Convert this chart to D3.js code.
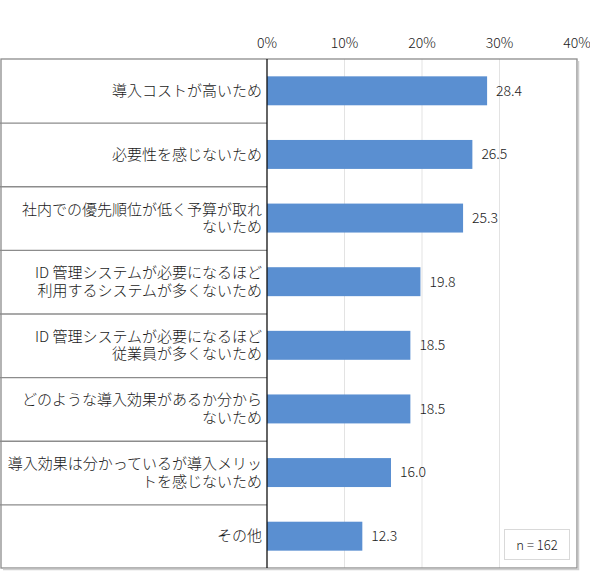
<!DOCTYPE html>
<html>
<head>
<meta charset="utf-8">
<script src="https://cdn.jsdelivr.net/npm/d3@7"></script>
<style>
  body { margin: 0; background: #fff; }
  text { font-family: "Noto Sans CJK JP", "Noto Sans", sans-serif; font-weight: 300; fill: #1a1a1a; }
</style>
</head>
<body>
<div id="chart"></div>
<script>
// categories, one entry per line of the label
var categories = [
  ["導入コストが高いため"],
  ["必要性を感じないため"],
  ["社内での優先順位が低く予算が取れ", "ないため"],
  ["ID 管理システムが必要になるほど", "利用するシステムが多くないため"],
  ["ID 管理システムが必要になるほど", "従業員が多くないため"],
  ["どのような導入効果があるか分から", "ないため"],
  ["導入効果は分かっているが導入メリッ", "トを感じないため"],
  ["その他"]
];
var values = [28.4, 26.5, 25.3, 19.8, 18.5, 18.5, 16.0, 12.3];
var ticks = [0, 10, 20, 30, 40];
var sampleNote = "n = 162";

var width = 590, height = 586;
// plot frame edges ("top" is reserved on window, so prefix them)
var pLeft = 267, pRight = 577, pTop = 59, pBottom = 568;

var svg = d3.select("#chart").append("svg")
  .attr("width", width)
  .attr("height", height);

var x = d3.scaleLinear().domain([0, 40]).range([pLeft, pRight]);
var y = d3.scaleBand()
  .domain(d3.range(categories.length))
  .range([pTop, pBottom])
  .paddingInner(0.545)
  .paddingOuter(0.2725);
var row = d3.scaleBand().domain(d3.range(categories.length)).range([pTop, pBottom]);

// gridlines
svg.append("g")
  .selectAll("line")
  .data(ticks.slice(1, -1))
  .join("line")
  .attr("x1", d => x(d)).attr("x2", d => x(d))
  .attr("y1", pTop).attr("y2", pBottom)
  .attr("stroke", "#e3e3e3")
  .attr("stroke-width", 1);

// row separators in the label area
svg.append("g")
  .selectAll("line")
  .data(d3.range(1, categories.length))
  .join("line")
  .attr("x1", 0).attr("x2", pLeft)
  .attr("y1", d => row(d) + 0.5).attr("y2", d => row(d) + 0.5)
  .attr("stroke", "#8c8c8c")
  .attr("stroke-width", 1.3);

// outer frame
svg.append("rect")
  .attr("x", 1).attr("y", pTop)
  .attr("width", pRight - 1).attr("height", pBottom - pTop)
  .attr("fill", "none")
  .attr("stroke", "#8c8c8c")
  .attr("stroke-width", 1.3);
// soft shadow on right and bottom
svg.append("path")
  .attr("d", `M${pRight + 1.5},${pTop + 2}V${pBottom + 1.5}H3`)
  .attr("fill", "none")
  .attr("stroke", "#cfcfcf")
  .attr("stroke-width", 1.5);

// bars
svg.append("g")
  .selectAll("rect")
  .data(values)
  .join("rect")
  .attr("x", x(0))
  .attr("y", (d, i) => y(i))
  .attr("width", d => x(d) - x(0))
  .attr("height", y.bandwidth())
  .attr("fill", "#5a8fd1");

// value labels
svg.append("g")
  .selectAll("text")
  .data(values)
  .join("text")
  .attr("x", d => x(d) + 9)
  .attr("y", (d, i) => y(i) + y.bandwidth() / 2)
  .attr("dy", "0.35em")
  .attr("font-size", 14)
  .text(d => d.toFixed(1));

// y axis line
svg.append("line")
  .attr("x1", pLeft).attr("x2", pLeft)
  .attr("y1", pTop).attr("y2", pBottom)
  .attr("stroke", "#111")
  .attr("stroke-width", 1.3);

// top tick labels
svg.append("g")
  .selectAll("text")
  .data(ticks)
  .join("text")
  .attr("x", d => x(d))
  .attr("y", 43)
  .attr("dy", "0.35em")
  .attr("text-anchor", "middle")
  .attr("font-size", 14)
  .text(d => d + "%");

// category labels
var lineH = 17.5;
svg.append("g")
  .selectAll("text")
  .data(categories)
  .join("text")
  .attr("text-anchor", "end")
  .attr("font-size", 15)
  .each(function (lines, i) {
    var cy = row(i) + row.bandwidth() / 2;
    var y0 = cy - (lines.length - 1) * lineH / 2;
    d3.select(this).selectAll("tspan")
      .data(lines)
      .join("tspan")
      .attr("x", pLeft - 5)
      .attr("y", (d, k) => y0 + k * lineH)
      .attr("dy", "0.35em")
      .text(d => d);
  });

// sample size box
svg.append("rect")
  .attr("x", 504.5).attr("y", 529.5)
  .attr("width", 65).attr("height", 30)
  .attr("fill", "#fff")
  .attr("stroke", "#d9d9d9");
svg.append("text")
  .attr("x", 537).attr("y", 545)
  .attr("dy", "0.35em")
  .attr("text-anchor", "middle")
  .attr("font-size", 13)
  .text(sampleNote);
</script>
</body>
</html>
